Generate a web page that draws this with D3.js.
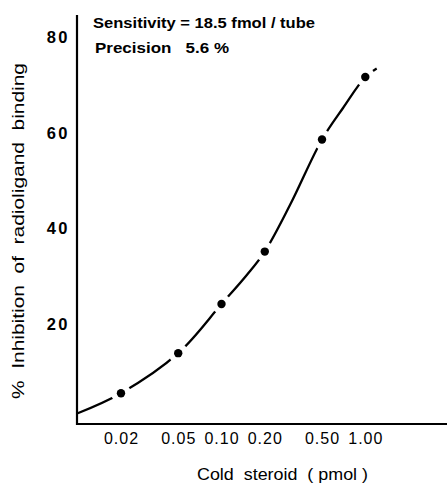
<!DOCTYPE html>
<html>
<head>
<meta charset="utf-8">
<script src="https://cdnjs.cloudflare.com/ajax/libs/d3/7.8.5/d3.min.js"></script>
<style>
  html, body { margin: 0; padding: 0; background: #fff; }
  svg { display: block; }
  text { font-family: "Liberation Sans", Arial, sans-serif; fill: #000; }
</style>
</head>
<body>
<div id="chart"></div>
<script>
// ---- data ----
const doses = [0.02, 0.05, 0.10, 0.20, 0.50, 1.00];          // pmol cold steroid
const inhibition = [5.3, 13.7, 24.0, 35.0, 58.5, 71.6];      // % inhibition
// hand-drawn standard curve
const curveDoses = [0.01, 0.02, 0.05, 0.10, 0.15, 0.20, 0.30, 0.50, 0.70, 1.00, 1.20];
const curveInhibition = [1.1, 5.3, 13.7, 24.0, 30.1, 35.0, 44.8, 58.5, 65.1, 71.6, 73.4];
const xTickValues = [0.02, 0.05, 0.10, 0.20, 0.50, 1.00];
const xTickLabels = ["0.02", "0.05", "0.10", "0.20", "0.50", "1.00"];
const yTickValues = [20, 40, 60, 80];
const annotations = ["Sensitivity = 18.5 fmol  /  tube", "Precision   5.6 %"];
const xTitle = "Cold  steroid  ( pmol )";
const yTitle = "%  Inhibition  of  radioligand  binding";

const W = 447, H = 485;
const svg = d3.select("#chart").append("svg").attr("width", W).attr("height", H);

const x = d3.scaleLog().domain([0.01, 3.7]).range([77.7, 447]);
const y = d3.scaleLinear().domain([-1.15, 84.6]).range([424, 15]);

// axes lines
const [x0, x1] = x.range();
const [yb, yt] = y.range();
svg.append("line").attr("x1", 77).attr("x2", x1).attr("y1", yb).attr("y2", yb)
  .attr("stroke", "#000").attr("stroke-width", 2.2);
svg.append("line").attr("x1", 77).attr("x2", 77).attr("y1", yt).attr("y2", yb + 1)
  .attr("stroke", "#000").attr("stroke-width", 2.2);

// x tick labels (no tick marks)
const xAxis = d3.axisBottom(x).tickValues(xTickValues)
  .tickFormat((d, i) => xTickLabels[i]).tickSize(0).tickPadding(0);
const gx = svg.append("g").attr("transform", `translate(0,${yb})`).call(xAxis);
gx.select(".domain").remove();
gx.selectAll("text").attr("y", 20).attr("dy", 0)
  .style("font-size", "16px").style("letter-spacing", "1px")
  .style("font-family", "'Liberation Sans', Arial, sans-serif");

// y tick labels
const yAxis = d3.axisLeft(y).tickValues(yTickValues).tickSize(0).tickPadding(0);
const gy = svg.append("g").attr("transform", `translate(70,0)`).call(yAxis);
gy.select(".domain").remove();
gy.selectAll("text").attr("dy", "0.36em")
  .style("font-size", "16.5px").style("font-weight", "bold").style("letter-spacing", "2.5px")
  .style("font-family", "'Liberation Sans', Arial, sans-serif");

// curve
const line = d3.line().x(d => x(d[0])).y(d => y(d[1])).curve(d3.curveCatmullRom.alpha(0.5));
svg.append("path")
  .datum(curveDoses.map((d, i) => [d, curveInhibition[i]]))
  .attr("d", line).attr("fill", "none").attr("stroke", "#000").attr("stroke-width", 2.3);

// white gaps around points, then points
const pts = doses.map((d, i) => [d, inhibition[i]]);
svg.append("g").selectAll("circle").data(pts).join("circle")
  .attr("cx", d => x(d[0])).attr("cy", d => y(d[1])).attr("r", 10).attr("fill", "#fff");
svg.append("g").selectAll("circle").data(pts).join("circle")
  .attr("cx", d => x(d[0])).attr("cy", d => y(d[1])).attr("r", 4.2).attr("fill", "#000");

// annotations
svg.append("text").attr("x", 93).attr("y", 28).text(annotations[0])
  .style("font-size", "15px").style("font-weight", "bold")
  .attr("textLength", 222).attr("lengthAdjust", "spacingAndGlyphs");
svg.append("text").attr("x", 95).attr("y", 53).text(annotations[1])
  .style("font-size", "15px").style("font-weight", "bold").style("white-space", "pre")
  .attr("textLength", 134).attr("lengthAdjust", "spacingAndGlyphs");

// axis titles
svg.append("text").attr("x", 197).attr("y", 480).text(xTitle)
  .style("font-size", "16.5px").style("white-space", "pre")
  .attr("textLength", 171).attr("lengthAdjust", "spacingAndGlyphs");
svg.append("text").attr("transform", "translate(24,231) rotate(-90)")
  .attr("text-anchor", "middle").text(yTitle)
  .style("font-size", "16.5px").style("white-space", "pre")
  .attr("textLength", 336).attr("lengthAdjust", "spacingAndGlyphs");
</script>
</body>
</html>
